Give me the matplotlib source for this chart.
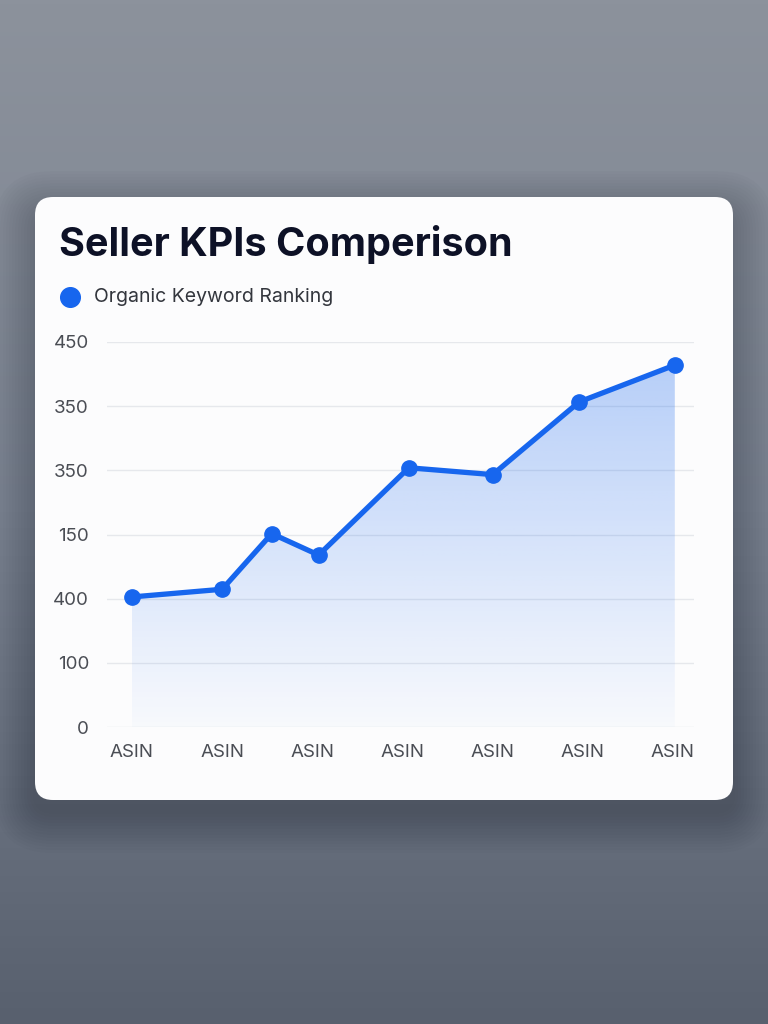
import numpy as np
import matplotlib
matplotlib.use('Agg')
import matplotlib.pyplot as plt
from matplotlib.patches import FancyBboxPatch
from matplotlib.colors import LinearSegmentedColormap

# 数据
title = 'Seller KPIs Comperison'
series_name = 'Organic Keyword Ranking'
x_labels = ['ASIN', 'ASIN', 'ASIN', 'ASIN', 'ASIN', 'ASIN', 'ASIN']
y_ticks = [0, 75, 150, 225, 300, 375, 450]
y_tick_labels = ['0', '100', '400', '150', '350', '350', '450']
x_pos = [0, 1, 1.55, 2.07, 3.07, 4, 4.96, 6.02]
ranking = [152, 161, 226, 201, 303, 295, 380, 423]

W, H = 768, 1024
blue = '#1766ee'

plt.rcParams['font.family'] = ['Inter', 'DejaVu Sans']
fig = plt.figure(figsize=(W / 100, H / 100), dpi=100)

# 背景（像素坐标）
bg = fig.add_axes([0, 0, 1, 1], zorder=0)
bg.set_xlim(0, W)
bg.set_ylim(H, 0)
bg.axis('off')
bg_cmap = LinearSegmentedColormap.from_list('bg', ['#8c929c', '#7b8391', '#58606e'])
bg.imshow(np.linspace(0, 1, 256).reshape(-1, 1), cmap=bg_cmap, aspect='auto',
          extent=[0, W, H, 0], zorder=0)

# 卡片阴影（柔和，偏下）
for i in range(14):
    pad = 2 + i * 3
    bg.add_patch(FancyBboxPatch((35 - pad, 212 - pad), 698 + 2 * pad, 600 + 2 * pad,
                                boxstyle='round,pad=0,rounding_size=%d' % (18 + pad),
                                fc='#1e2430', ec='none', alpha=0.018, zorder=1))
# 卡片
bg.add_patch(FancyBboxPatch((35, 197), 698, 603, boxstyle='round,pad=0,rounding_size=18',
                            fc='#fcfcfd', ec='none', zorder=2))

bg.text(59, 245, title, fontsize=28.5, fontweight='bold', color='#0d1126',
        va='center', ha='left', zorder=3)
bg.scatter([70], [297], s=200, color=blue, zorder=3)
bg.text(94, 297, series_name, fontsize=14, color='#33363d', va='center', ha='left', zorder=3)

# 主图
ax_left, ax_right = 107, 694
ax_top, ax_bottom = 342, 727
ax = fig.add_axes([ax_left / W, 1 - ax_bottom / H, (ax_right - ax_left) / W,
                   (ax_bottom - ax_top) / H], zorder=1)
ax.patch.set_alpha(0)
unit = (673 - 132) / 6
ax.set_xlim(-(132 - ax_left) / unit, 6 + (ax_right - 673) / unit)
ax.set_ylim(0, 450)

# 渐变填充
poly = ax.fill_between(x_pos, ranking, 0, facecolor='none', edgecolor='none')
grad = np.zeros((256, 1, 4))
t = np.linspace(1, 0, 256)
grad[:, 0, 0] = 23 / 255
grad[:, 0, 1] = 102 / 255
grad[:, 0, 2] = 238 / 255
grad[:, 0, 3] = 0.02 + 0.30 * t
im = ax.imshow(grad, aspect='auto', extent=[x_pos[0], x_pos[-1], 0, 450],
               origin='upper', zorder=1)
im.set_clip_path(poly.get_paths()[0], transform=ax.transData)

ax.plot(x_pos, ranking, color=blue, lw=3.8, marker='o', markersize=11,
        solid_joinstyle='round', zorder=3, clip_on=False)

ax.set_yticks(y_ticks)
ax.set_yticklabels(y_tick_labels)
ax.set_xticks(range(len(x_labels)))
ax.set_xticklabels(x_labels)
ax.tick_params(axis='both', length=0, labelsize=13.5, labelcolor='#4a4d54')
ax.tick_params(axis='y', pad=13)
ax.tick_params(axis='x', pad=12)
ax.grid(axis='y', color='#e6e8ec', lw=1)
ax.set_axisbelow(True)
for s in ax.spines.values():
    s.set_visible(False)

fig.savefig('out.png', dpi=100)
